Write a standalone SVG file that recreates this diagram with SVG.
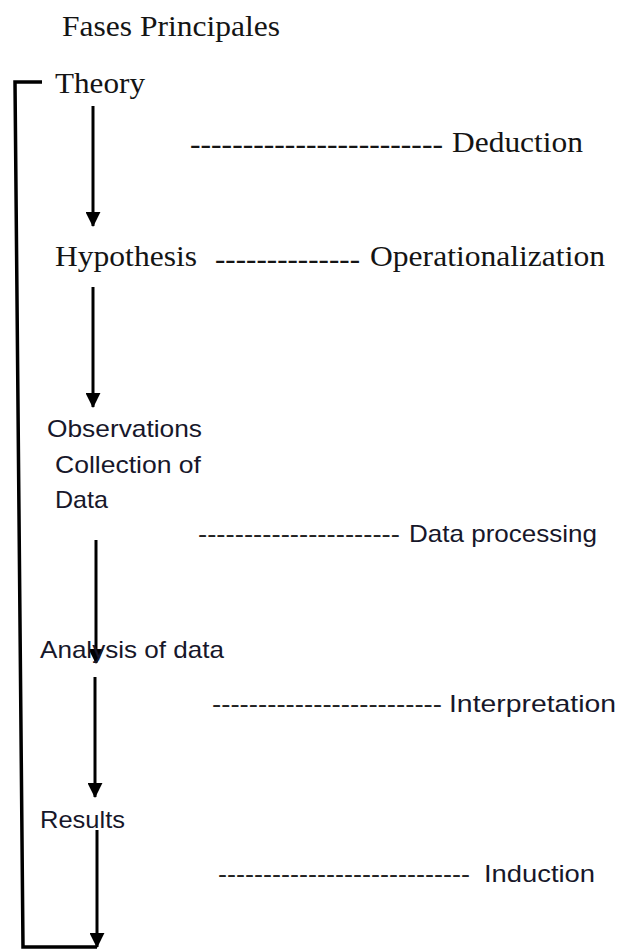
<svg xmlns="http://www.w3.org/2000/svg" width="621" height="950" viewBox="0 0 621 950">
<defs>
<style>
.serif{font-family:"Liberation Serif","Times New Roman",serif;font-size:29px;fill:#141414}
.sans{font-family:"Liberation Sans",Arial,sans-serif;font-size:24px;fill:#17172a}
.dserif{font-family:"Liberation Serif",serif;font-size:27px;font-weight:bold;fill:#141414}
.dsans{font-family:"Liberation Sans",Arial,sans-serif;font-size:23px;fill:#222}
.arr{stroke:#000;stroke-width:3;fill:none;marker-end:url(#ah)}
.line{stroke:#000;stroke-width:3.5;fill:none}
</style>
<marker id="ah" markerWidth="5" markerHeight="5" refX="4.7" refY="2.5" orient="auto" markerUnits="strokeWidth">
<path d="M0,0 L5,2.5 L0,5 Z" fill="#000"/>
</marker>
</defs>
<rect width="621" height="950" fill="#fff"/>
<text class="serif" x="62" y="36" textLength="218" lengthAdjust="spacingAndGlyphs">Fases Principales</text>
<g id="connectors">
<path class="line" d="M42,82 L15,82 L23,947 L97,947"/>
<line class="arr" x1="93" y1="106" x2="93" y2="226"/>
<line class="arr" x1="93" y1="287" x2="93" y2="407"/>
<line class="arr" x1="96" y1="540" x2="96" y2="663"/>
<line class="arr" x1="95" y1="677" x2="95" y2="797"/>
<line class="arr" x1="97" y1="830" x2="97" y2="947"/>
</g>
<g id="theory"><text class="serif" x="55" y="93" textLength="90" lengthAdjust="spacingAndGlyphs">Theory</text></g>
<g id="deduction">
<text class="dserif" x="190" y="153" textLength="253" lengthAdjust="spacingAndGlyphs">------------------------</text>
<text class="serif" x="452" y="152" textLength="131" lengthAdjust="spacingAndGlyphs">Deduction</text>
</g>
<g id="hypothesis"><text class="serif" x="55" y="266" textLength="142" lengthAdjust="spacingAndGlyphs">Hypothesis</text></g>
<g id="operationalization">
<text class="dserif" x="215" y="268" textLength="145" lengthAdjust="spacingAndGlyphs">--------------</text>
<text class="serif" x="370" y="266" textLength="235" lengthAdjust="spacingAndGlyphs">Operationalization</text>
</g>
<g id="observations">
<text class="sans" x="47" y="437" textLength="155" lengthAdjust="spacingAndGlyphs">Observations</text>
<text class="sans" x="55" y="473" textLength="146" lengthAdjust="spacingAndGlyphs">Collection of</text>
<text class="sans" x="55" y="508" textLength="53" lengthAdjust="spacingAndGlyphs">Data</text>
</g>
<g id="data-processing">
<text class="dsans" x="198" y="542" textLength="202" lengthAdjust="spacingAndGlyphs">----------------------</text>
<text class="sans" x="409" y="542" textLength="188" lengthAdjust="spacingAndGlyphs">Data processing</text>
</g>
<g id="analysis"><text class="sans" x="40" y="658" textLength="184" lengthAdjust="spacingAndGlyphs">Analysis of data</text></g>
<g id="interpretation">
<text class="dsans" x="212" y="712" textLength="230" lengthAdjust="spacingAndGlyphs">-------------------------</text>
<text class="sans" x="449" y="712" textLength="167" lengthAdjust="spacingAndGlyphs">Interpretation</text>
</g>
<g id="results"><text class="sans" x="40" y="828" textLength="85" lengthAdjust="spacingAndGlyphs">Results</text></g>
<g id="induction">
<text class="dsans" x="218" y="882" textLength="252" lengthAdjust="spacingAndGlyphs">----------------------------</text>
<text class="sans" x="484" y="882" textLength="111" lengthAdjust="spacingAndGlyphs">Induction</text>
</g>
</svg>
